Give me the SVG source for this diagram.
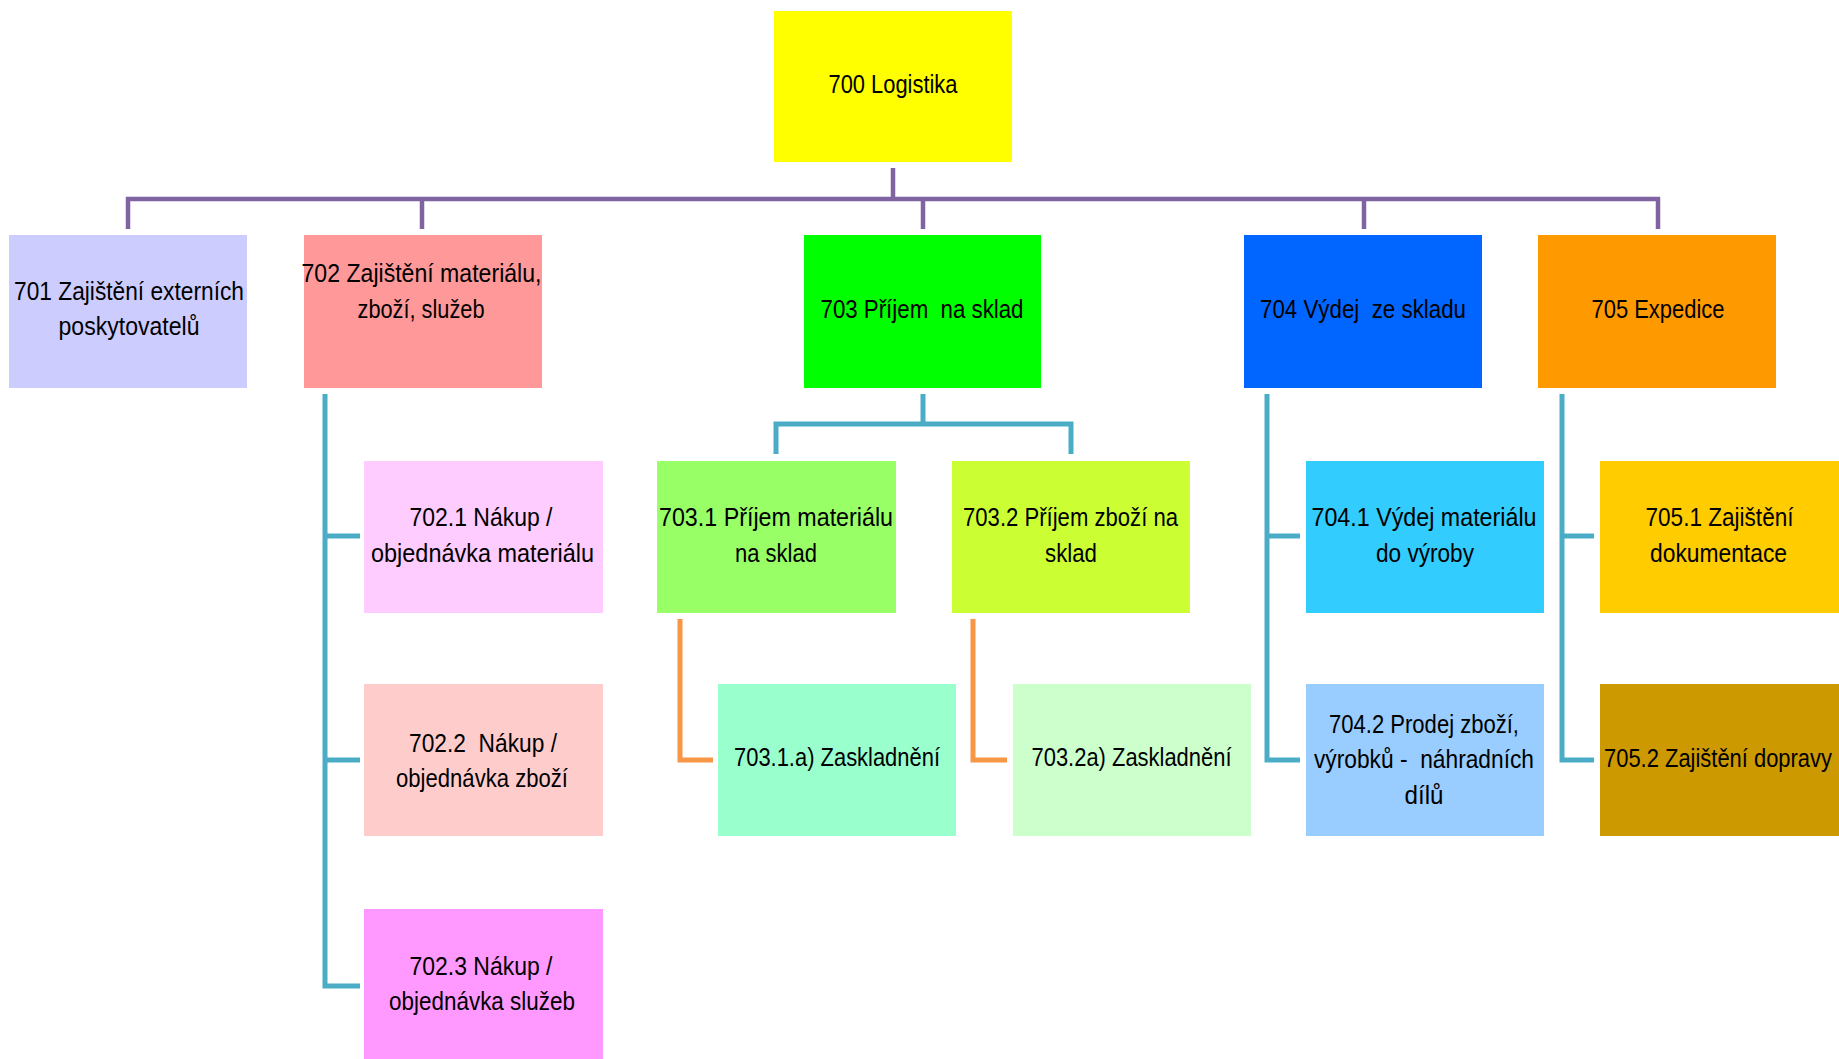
<svg xmlns="http://www.w3.org/2000/svg" width="1839" height="1059" viewBox="0 0 1839 1059">
<style>
text{font-family:"Liberation Sans",Arial,sans-serif;font-size:26px;fill:#000;text-anchor:middle;white-space:pre}
.c{fill:none;stroke-linejoin:miter;stroke-linecap:butt}
.p{stroke:#8064A2;stroke-width:4.5}
.t{stroke:#4BACC6;stroke-width:5}
.o{stroke:#F79646;stroke-width:5}
</style>
<rect width="1839" height="1059" fill="#fff"/>
<g id="connectors">
<path class="c p" d="M893,168V199H128V229M893,199H422V229M893,199H923V229M893,199H1364V229M893,199H1658V229"/>
<path class="c t" d="M325,394V986H360M325,536H360M325,760H360"/>
<path class="c t" d="M923,394V424H776V454M923,424H1071V454"/>
<path class="c t" d="M1267,394V760H1300M1267,536H1300"/>
<path class="c t" d="M1562,394V760H1594M1562,536H1594"/>
<path class="c o" d="M680,619V760H713"/>
<path class="c o" d="M973,619V760H1007"/>
</g>
<g id="n700"><rect x="774" y="11" width="238" height="151" fill="#FFFF00"/><text x="893" y="93" textLength="129" lengthAdjust="spacingAndGlyphs">700 Logistika</text></g>
<g id="n701"><rect x="9" y="235" width="238" height="153" fill="#CCCCFF"/><text x="129" y="300" textLength="230" lengthAdjust="spacingAndGlyphs">701 Zajištění externích</text><text x="129" y="335" textLength="141" lengthAdjust="spacingAndGlyphs">poskytovatelů</text></g>
<g id="n702"><rect x="304" y="235" width="238" height="153" fill="#FF9999"/><text x="421.5" y="282" textLength="240" lengthAdjust="spacingAndGlyphs">702 Zajištění materiálu,</text><text x="421" y="318" textLength="127" lengthAdjust="spacingAndGlyphs">zboží, služeb</text></g>
<g id="n703"><rect x="804" y="235" width="237" height="153" fill="#00FF00"/><text x="922" y="318" textLength="203" lengthAdjust="spacingAndGlyphs">703 Příjem  na sklad</text></g>
<g id="n704"><rect x="1244" y="235" width="238" height="153" fill="#0066FF"/><text x="1363" y="318" textLength="206" lengthAdjust="spacingAndGlyphs">704 Výdej  ze skladu</text></g>
<g id="n705"><rect x="1538" y="235" width="238" height="153" fill="#FF9900"/><text x="1658" y="318" textLength="133" lengthAdjust="spacingAndGlyphs">705 Expedice</text></g>
<g id="n702-1"><rect x="364" y="461" width="239" height="152" fill="#FFCCFF"/><text x="481" y="526" textLength="143" lengthAdjust="spacingAndGlyphs">702.1 Nákup /</text><text x="482.5" y="562" textLength="223" lengthAdjust="spacingAndGlyphs">objednávka materiálu</text></g>
<g id="n702-2"><rect x="364" y="684" width="239" height="152" fill="#FFCCCC"/><text x="483" y="752" textLength="148" lengthAdjust="spacingAndGlyphs">702.2  Nákup /</text><text x="482" y="787" textLength="172" lengthAdjust="spacingAndGlyphs">objednávka zboží</text></g>
<g id="n702-3"><rect x="364" y="909" width="239" height="152" fill="#FF99FF"/><text x="481" y="975" textLength="143" lengthAdjust="spacingAndGlyphs">702.3 Nákup /</text><text x="482" y="1010" textLength="186" lengthAdjust="spacingAndGlyphs">objednávka služeb</text></g>
<g id="n703-1"><rect x="657" y="461" width="239" height="152" fill="#99FF66"/><text x="776" y="526" textLength="234" lengthAdjust="spacingAndGlyphs">703.1 Příjem materiálu</text><text x="776" y="562" textLength="82" lengthAdjust="spacingAndGlyphs">na sklad</text></g>
<g id="n703-2"><rect x="952" y="461" width="238" height="152" fill="#CCFF33"/><text x="1070.5" y="526" textLength="215" lengthAdjust="spacingAndGlyphs">703.2 Příjem zboží na</text><text x="1071" y="562" textLength="52" lengthAdjust="spacingAndGlyphs">sklad</text></g>
<g id="n703-1a"><rect x="718" y="684" width="238" height="152" fill="#99FFCC"/><text x="837" y="766" textLength="206" lengthAdjust="spacingAndGlyphs">703.1.a) Zaskladnění</text></g>
<g id="n703-2a"><rect x="1013" y="684" width="238" height="152" fill="#CCFFCC"/><text x="1131.5" y="766" textLength="200" lengthAdjust="spacingAndGlyphs">703.2a) Zaskladnění</text></g>
<g id="n704-1"><rect x="1306" y="461" width="238" height="152" fill="#33CCFF"/><text x="1424" y="526" textLength="225" lengthAdjust="spacingAndGlyphs">704.1 Výdej materiálu</text><text x="1425" y="562" textLength="98" lengthAdjust="spacingAndGlyphs">do výroby</text></g>
<g id="n704-2"><rect x="1306" y="684" width="238" height="152" fill="#99CCFF"/><text x="1424" y="733" textLength="190" lengthAdjust="spacingAndGlyphs">704.2 Prodej zboží,</text><text x="1424" y="768" textLength="220" lengthAdjust="spacingAndGlyphs">výrobků -  náhradních</text><text x="1424" y="804" textLength="39" lengthAdjust="spacingAndGlyphs">dílů</text></g>
<g id="n705-1"><rect x="1600" y="461" width="239" height="152" fill="#FFCC00"/><text x="1719.5" y="526" textLength="148" lengthAdjust="spacingAndGlyphs">705.1 Zajištění</text><text x="1718.5" y="562" textLength="137" lengthAdjust="spacingAndGlyphs">dokumentace</text></g>
<g id="n705-2"><rect x="1600" y="684" width="239" height="152" fill="#CC9900"/><text x="1718" y="767" textLength="228" lengthAdjust="spacingAndGlyphs">705.2 Zajištění dopravy</text></g>
</svg>
